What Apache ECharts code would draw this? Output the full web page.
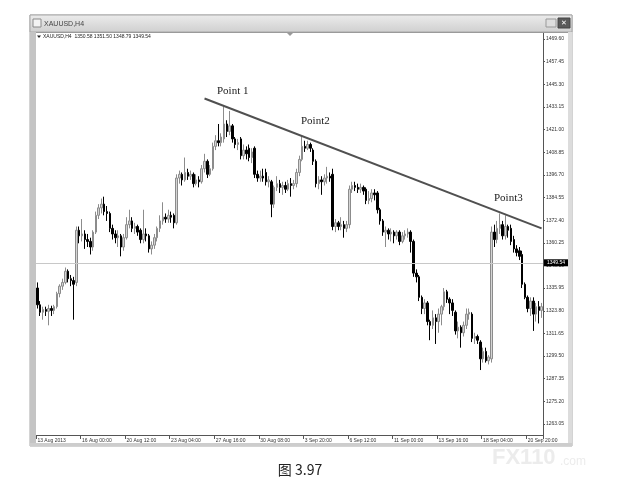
<!DOCTYPE html>
<html><head><meta charset="utf-8">
<script src="https://cdn.jsdelivr.net/npm/echarts@6/dist/echarts.min.js"></script>
<style>html,body{margin:0;padding:0;background:#fff}#c{width:618px;height:495px}</style>
</head><body><div id="c"></div>
<script>
// [open, close, low, high] per H4 bar
const ohlc = [
[1336,1327,1325,1339],[1327,1323,1321,1329],[1323,1324.5,1319,1326],[1324.5,1323.5,1321,1326],[1323.5,1325,1316,1327],
[1325,1324,1321,1326.5],[1324,1326,1322,1327],[1326,1333,1325,1334],[1333,1337,1331,1338],[1337,1339,1335,1341],
[1339,1345,1338,1347],[1345,1341,1339,1346],[1341,1340,1337,1343],[1340,1338,1319,1342],[1339,1367,1337,1369],
[1367,1364,1360,1369],[1364,1365,1361,1373],[1365,1362,1357,1367],[1362,1361,1358,1365],[1361,1358,1354,1363],
[1358,1366,1356,1367],[1366,1375,1365,1377],[1375,1379,1373,1381],[1379,1381,1376,1384],[1381,1377,1375,1385],
[1377,1376,1372,1380],[1376,1368,1366,1377],[1368,1365,1362,1370],[1365,1363,1360,1367],[1363,1364,1358,1367],
[1364,1358,1353,1365],[1358,1363,1356,1365],[1363,1370,1362,1374],[1370,1372,1368,1378],[1372,1368,1366,1374],
[1368,1369,1365,1371],[1369,1366,1364,1370],[1367,1362,1360,1368],[1362,1365,1360,1378],[1365,1364,1361,1368],
[1364,1357,1355,1365],[1357,1359,1354,1361],[1359,1363,1357,1365],[1363,1368,1361,1369],[1368,1372,1366,1375],
[1372,1374,1370,1382],[1374,1373,1371,1376],[1373,1375,1371,1378],[1375,1374,1371,1377],[1375,1371,1368,1376],
[1371,1395,1370,1397],[1395,1397,1392,1399],[1397,1394,1391,1398],[1394,1398,1393,1406],[1398,1396,1394,1400],
[1396,1397,1394,1399],[1397,1392,1390,1398],[1392,1394,1391,1397],[1394,1393,1390,1396],[1393,1400,1392,1402],
[1400,1404,1398,1408],[1404,1397,1395,1405],[1397,1400,1396,1402],[1400,1412,1399,1414],[1412,1415,1410,1418],
[1415,1414,1412,1424],[1414,1417,1412,1419],[1416,1424,1414,1433.5],[1424,1420,1417,1426],[1420,1423,1418,1431],
[1423,1416,1414,1424],[1416,1413,1411,1417],[1413,1414,1410,1416],[1416,1407,1405,1417],[1407,1410,1405,1413],
[1410,1408,1405,1412],[1411,1406,1404,1413],[1406,1409,1403,1411],[1411,1397,1395,1412],[1397,1395,1393,1399],
[1395,1396,1393,1399],[1396,1395,1393,1400],[1398,1393,1391,1400],[1393,1394,1390,1396],[1393,1381,1374,1394],
[1381,1390,1379,1391],[1390,1392,1388,1396],[1392,1390,1387,1394],[1390,1391,1386,1393],[1391,1389,1387,1393],
[1389,1392,1388,1394],[1392,1391,1385,1395],[1391,1392,1389,1394],[1392,1398,1390,1400],[1398,1405,1396,1407],
[1405,1412,1404,1417.5],[1412,1411,1409,1415],[1411,1413,1410,1415],[1413,1411,1409,1414],[1410,1404,1402,1411],
[1404,1392,1390,1405],[1392,1394,1389,1396],[1394,1393,1386,1396],[1393,1395,1391,1397],[1395,1396,1392,1401],
[1396,1395,1393,1398],[1397,1369,1367,1400],[1369,1371,1366,1373],[1371,1369,1367,1372],[1369,1370,1367,1374],
[1370,1368,1363,1372],[1368,1370,1366,1372],[1370,1389,1368,1391],[1389,1391,1387,1393],[1391,1390,1388,1393],
[1390,1389,1387,1392],[1389,1390,1387,1392],[1390,1388,1386,1391],[1389,1383,1381,1390],[1383,1384,1381,1388],
[1384,1387,1382,1389],[1387,1386,1383,1389],[1387,1378,1376,1388],[1378,1372,1370,1379],[1372,1366,1364,1373],
[1366,1367,1358,1369],[1367,1365,1362,1368],[1365,1366,1361,1368],[1366,1364,1360,1367],[1364,1366,1362,1367],
[1366,1361,1359,1367],[1361,1364,1360,1366],[1364,1365,1362,1367],[1365,1366,1363,1368],[1366,1361,1355,1367],
[1361,1344,1342,1362],[1344,1342,1339,1346],[1342,1331,1329,1343],[1331,1325,1322,1332],[1325,1328,1322,1330],
[1328,1318,1316,1329],[1318,1316,1308,1319],[1316,1320,1314,1324],[1320,1318,1306,1322],[1318,1322,1312,1325],
[1322,1326,1316,1327],[1326,1334,1324,1336],[1334,1330,1328,1335],[1330,1328,1322,1331],[1328,1324,1321,1330],
[1323,1313,1311,1324],[1313,1315,1309,1318],[1315,1312,1304,1316],[1312,1316,1310,1318],[1316,1322,1314,1325],
[1322,1323,1319,1325],[1322,1309,1307,1323],[1309,1310,1306,1312],[1310,1308,1306,1311],[1307,1298,1292,1308],
[1298,1302,1296,1304],[1302,1297,1296,1304],[1297,1299,1295,1300],[1298,1366,1296,1369],[1366,1362,1358,1370],
[1362,1368,1360,1372],[1368,1370,1365,1376],[1370,1364,1362,1372],[1364,1369,1362,1375],[1369,1367,1363,1370],
[1368,1361,1359,1370],[1362,1357,1355,1364],[1357,1355,1353,1359],[1356,1353,1351,1358],[1354,1338,1336,1356],
[1338,1331,1330,1339],[1331,1325,1323,1332],[1325,1329,1321,1331],[1329,1322,1313,1331],[1322,1326,1318,1328],
[1326,1324,1317,1329],[1324,1326,1320,1328]
];
const xTickIndex = [0,16,32,48,64,80,96,112,128,144,160,176];
const xTickText = ['13 Aug 2013','16 Aug 00:00','20 Aug 12:00','23 Aug 04:00','27 Aug 16:00','30 Aug 08:00',
  '3 Sep 20:00','6 Sep 12:00','11 Sep 00:00','13 Sep 16:00','18 Sep 04:00','20 Sep 20:00'];
const yTickValues = [1263.05,1275.20,1287.35,1299.50,1311.65,1323.80,1335.95,1348.10,1360.25,
  1372.40,1384.55,1396.70,1408.85,1421.00,1433.15,1445.30,1457.45,1469.60];
const yRange = [1257.15, 1473.35];
const lastPrice = 1349.54;
const headerQuote = ['1350.58','1351.50','1348.79','1349.54'];
const symbolName = 'XAUUSD,H4';
const trendPoints = [[60, 1437.7], [181, 1368.0]];
const pointLabels = ['Point 1', 'Point2', 'Point3'];
const caption = '图 3.97';

const chart = echarts.init(document.getElementById('c'), null, {renderer: 'canvas'});
const categories = ohlc.map((_, i) => String(i));
const tickSet = new Set(xTickIndex);
const tickLabelMap = {};
xTickIndex.forEach((k, j) => tickLabelMap[k] = xTickText[j]);
const F = 'Liberation Sans, Arial, sans-serif';

chart.setOption({
  animation: false,
  backgroundColor: '#fff',
  grid: {left: 36, right: 75, top: 32, bottom: 60},
  xAxis: {
    type: 'category', data: categories, boundaryGap: true,
    axisLine: {show: true, lineStyle: {color: '#555', width: 1}},
    axisTick: {show: true, length: 4, interval: (i) => tickSet.has(i), lineStyle: {color: '#555'}},
    axisLabel: {interval: (i) => tickSet.has(i), formatter: (v, i) => tickLabelMap[i] || '',
      align: 'left', fontSize: 5, color: '#333', fontFamily: F, margin: 3},
    splitLine: {show: false}
  },
  yAxis: {
    type: 'value', position: 'right', min: yRange[0], max: yRange[1], scale: true,
    axisLine: {show: true, lineStyle: {color: '#555', width: 1}},
    axisTick: {show: true, length: 2, customValues: yTickValues, lineStyle: {color: '#555'}},
    axisLabel: {customValues: yTickValues, formatter: (v) => v.toFixed(2), fontSize: 5, color: '#333',
      fontFamily: F, margin: 3},
    splitLine: {show: false}
  },
  series: [
    {
      type: 'candlestick', data: ohlc, barWidth: 2,
      itemStyle: {color: '#d4d4d4', borderColor: '#8c8c8c', color0: '#000', borderColor0: '#000', borderWidth: 1},
      markLine: {
        silent: true, symbol: 'none',
        lineStyle: {color: '#c8c8c8', width: 1, type: 'solid'},
        label: {show: true, position: 'end', formatter: lastPrice.toFixed(2), backgroundColor: '#000', color: '#fff',
          fontSize: 5, fontFamily: F, padding: [1, 3], distance: 1},
        data: [{yAxis: lastPrice}]
      }
    },
    {
      type: 'line', data: [
        {value: trendPoints[0], symbol: 'circle', symbolSize: 4},
        {value: trendPoints[1], symbol: 'none'}
      ],
      lineStyle: {color: '#505050', width: 2}, itemStyle: {color: '#505050'}, z: 5, silent: true
    }
  ],
  graphic: {elements: [
    {type: 'rect', z: -10, shape: {x: 30, y: 15, width: 542, height: 431}, style: {fill: '#fff', stroke: '#a8a8a8', lineWidth: 1}},
    {type: 'rect', z: 50, shape: {x: 30, y: 15, width: 542, height: 17},
      style: {fill: new echarts.graphic.LinearGradient(0, 0, 0, 1, [{offset: 0, color: '#ececec'}, {offset: 1, color: '#cfcfcf'}]), stroke: '#a8a8a8', lineWidth: 1}},
    {type: 'rect', z: 51, shape: {x: 33, y: 19, width: 8, height: 8}, style: {fill: '#f4f4f4', stroke: '#8a8a8a', lineWidth: 1}},
    {type: 'text', z: 51, style: {text: symbolName, x: 44, y: 24, fontSize: 7, fill: '#444', fontFamily: F, verticalAlign: 'middle'}},
    {type: 'rect', z: 51, shape: {x: 546, y: 19, width: 10, height: 8}, style: {fill: '#dedede', stroke: '#999', lineWidth: 1}},
    {type: 'rect', z: 51, shape: {x: 558, y: 18, width: 12, height: 10}, style: {fill: '#5a5a5a', stroke: '#444', lineWidth: 1}},
    {type: 'text', z: 52, style: {text: '✕', x: 564, y: 23.5, fontSize: 7, fill: '#fff', align: 'center', verticalAlign: 'middle', fontFamily: 'DejaVu Sans'}},
    {type: 'rect', z: 50, shape: {x: 30, y: 32, width: 6, height: 413}, style: {fill: '#c4c4c4'}},
    {type: 'rect', z: 50, shape: {x: 568, y: 32, width: 4, height: 413}, style: {fill: '#dcdcdc'}},
    {type: 'rect', z: 50, shape: {x: 30, y: 443, width: 542, height: 3}, style: {fill: '#cdcdcd'}},
    {type: 'line', z: 50, shape: {x1: 36, y1: 32.5, x2: 568, y2: 32.5}, style: {stroke: '#9a9a9a', lineWidth: 1}},
    {type: 'polygon', z: 51, shape: {points: [[287, 33], [293, 33], [290, 36]]}, style: {fill: '#999'}},
    {type: 'polygon', z: 51, shape: {points: [[37, 35.5], [41, 35.5], [39, 38]]}, style: {fill: '#222'}},
    {type: 'text', z: 51, style: {text: symbolName + '  ' + headerQuote.join(' '), x: 43, y: 37, fontSize: 5, fill: '#222', fontFamily: F, verticalAlign: 'middle'}},
    {type: 'text', z: 51, style: {text: pointLabels[0], x: 217, y: 91, fontSize: 11, fill: '#1a1a1a', fontFamily: 'Liberation Serif, serif', verticalAlign: 'middle'}},
    {type: 'text', z: 51, style: {text: pointLabels[1], x: 301, y: 121, fontSize: 11, fill: '#1a1a1a', fontFamily: 'Liberation Serif, serif', verticalAlign: 'middle'}},
    {type: 'text', z: 51, style: {text: pointLabels[2], x: 494, y: 198, fontSize: 11, fill: '#1a1a1a', fontFamily: 'Liberation Serif, serif', verticalAlign: 'middle'}},
    {type: 'text', z: 0, style: {text: 'FX110', x: 492, y: 458, fontSize: 22, fontWeight: 'bold', fill: '#ececec', fontFamily: F, verticalAlign: 'middle'}},
    {type: 'text', z: 0, style: {text: '.com', x: 560, y: 462, fontSize: 12, fill: '#ececec', fontFamily: F, verticalAlign: 'middle'}},
    {type: 'text', z: 51, style: {text: caption, x: 300, y: 470, fontSize: 14, fill: '#222', fontFamily: 'Noto Sans CJK SC, sans-serif', align: 'center', verticalAlign: 'middle'}}
  ]}
});
</script></body></html>
